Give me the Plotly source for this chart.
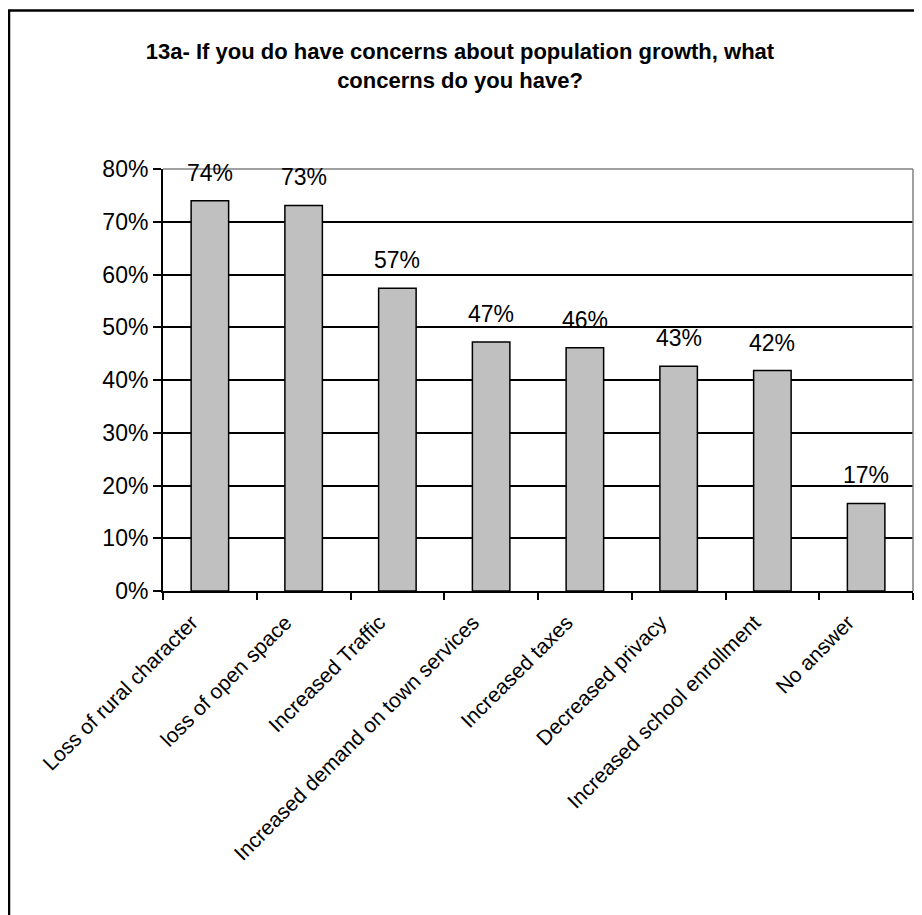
import plotly.graph_objects as go

categories = [
    "Loss of rural character",
    "loss of open space",
    "Increased Traffic",
    "Increased demand on town services",
    "Increased taxes",
    "Decreased privacy",
    "Increased school enrollment",
    "No answer",
]
values = [0.740, 0.731, 0.574, 0.472, 0.461, 0.426, 0.418, 0.166]
title_text = "13a- If you do have concerns about population growth, what<br>concerns do you have?"

W, H = 922, 915
# page body has an 8px margin, so figure coordinates are shifted by 8px
ML, MR, MT, MB = 155, 17, 161, 332
PW, PH = W - ML - MR, H - MT - MB
OFF = 8


def px_x(x):
    return (x - OFF - ML) / PW


def px_y(y):
    return (H - MB - (y - OFF)) / PH


fig = go.Figure()
fig.add_trace(go.Bar(
    x=categories, y=values,
    marker=dict(color="#C0C0C0", line=dict(color="black", width=1.5)),
    hoverinfo="skip",
))

for c, v in zip(categories, values):
    fig.add_annotation(
        x=c, y=v, text=f"{v:.0%}", showarrow=False,
        yanchor="bottom", yshift=13,
        font=dict(family="Liberation Sans, Arial", size=23, color="black"),
    )

# plot area border (gray) top and right
fig.add_shape(type="line", xref="paper", yref="paper", x0=0, x1=1, y0=1, y1=1,
              line=dict(color="#808080", width=1.5), layer="above")
fig.add_shape(type="line", xref="paper", yref="paper", x0=1, x1=1, y0=0, y1=1,
              line=dict(color="#808080", width=1.5), layer="above")
# outer chart border (left and top visible)
fig.add_shape(type="line", xref="paper", yref="paper",
              x0=px_x(9), x1=px_x(9), y0=px_y(10), y1=px_y(940),
              line=dict(color="black", width=2.5), layer="above")
fig.add_shape(type="line", xref="paper", yref="paper",
              x0=px_x(8), x1=px_x(940), y0=px_y(10.5), y1=px_y(10.5),
              line=dict(color="black", width=2.5), layer="above")

fig.update_layout(
    width=W, height=H,
    margin=dict(l=ML, r=MR, t=MT, b=MB, pad=0),
    paper_bgcolor="white", plot_bgcolor="white",
    showlegend=False,
    bargap=0.6,
    title=dict(
        text=title_text, x=(460 - OFF) / W, xref="container", xanchor="center",
        y=1 - 51 / H, yref="container", yanchor="top",
        font=dict(family="Liberation Sans Narrow, Arial Narrow, Liberation Sans", size=22,
                  color="black", weight="bold"),
    ),
    font=dict(family="Liberation Sans, Arial", color="black"),
)
fig.update_yaxes(
    range=[0, 0.8], dtick=0.1, tickformat=".0%",
    showgrid=True, gridcolor="black", gridwidth=1.5,
    showline=True, linecolor="black", linewidth=2,
    ticks="outside", ticklen=8, tickwidth=1.5, tickcolor="black",
    tickfont=dict(size=23, family="Liberation Sans, Arial"),
    zeroline=False, fixedrange=True,
)
fig.update_xaxes(
    showline=True, linecolor="black", linewidth=2,
    ticks="outside", tickson="boundaries", ticklen=7, tickwidth=1.5, tickcolor="black",
    tickangle=-45, tickfont=dict(size=21, family="Liberation Sans, Arial"),
    ticklabelstandoff=9, ticklabelshift=-18,
    showgrid=False, fixedrange=True,
)

fig.write_html("out.html")
